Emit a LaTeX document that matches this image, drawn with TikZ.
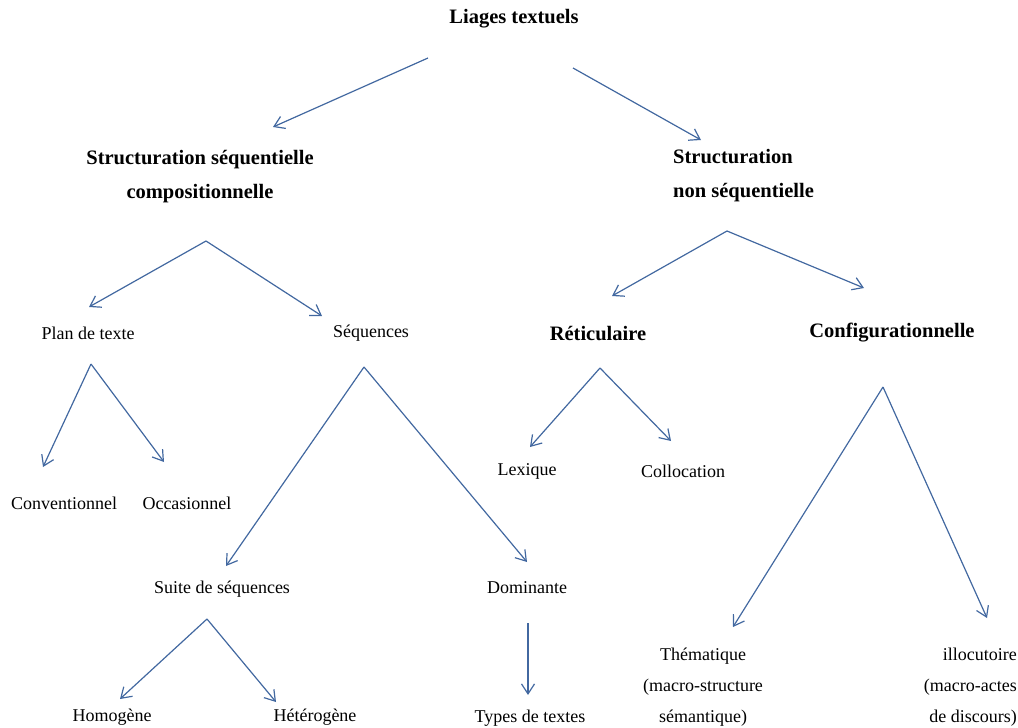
\documentclass[tikz,border=0pt]{standalone}
\usepackage{fontspec}
\setmainfont{Liberation Serif}
\usetikzlibrary{arrows.meta}
\definecolor{liageblue}{RGB}{66,104,160}
\tikzset{
    lien/.style={draw=liageblue, line width=1.2pt, -{Straight Barb[length=10pt,width=13pt]}},
    titre/.style={inner sep=0pt, text=black, font=\fontsize{20.5}{34}\selectfont\bfseries},
    terme/.style={inner sep=0pt, text=black, font=\fontsize{18}{31}\selectfont}
}

\begin{document}
\begin{tikzpicture}[x=1pt, y=-1pt]
    \useasboundingbox (0,0) rectangle (1018,728);
    % niveau 1 et 2
    \node[titre] (liages) at (514,19) {Liages textuels};
    \node[titre, align=center] (ssc) at (200,177) {Structuration séquentielle\\compositionnelle};
    \node[titre, align=left, anchor=west] (sns) at (673,176) {Structuration\\non séquentielle};
    % niveau 3
    \node[terme] (plan) at (88,333) {Plan de texte};
    \node[terme] (seq) at (371,333) {Séquences};
    \node[titre] (ret) at (598,333) {Réticulaire};
    \node[titre] (conf) at (892,333) {Configurationnelle};
    % niveau 4
    \node[terme] (conv) at (64,503) {Conventionnel};
    \node[terme] (occ) at (187,503) {Occasionnel};
    \node[terme] (lex) at (527,471) {Lexique};
    \node[terme] (coll) at (683,471) {Collocation};
    \node[terme] (suite) at (222,589) {Suite de séquences};
    \node[terme] (dom) at (527,588) {Dominante};
    % niveau 5
    \node[terme] (homo) at (112,717) {Homogène};
    \node[terme] (hetero) at (315,717) {Hétérogène};
    \node[terme] (types) at (530,718) {Types de textes};
    \node[terme, align=center] (them) at (703,687) {Thématique\\(macro-structure\\sémantique)};
    \node[terme, align=right, anchor=east] (illoc) at (1017,687) {illocutoire\\(macro-actes\hspace*{13pt}\\de discours)};
    % departs
    \coordinate (liages-out1) at (428,58);
    \coordinate (liages-out2) at (573,68);
    \coordinate (ssc-out) at (206,241);
    \coordinate (sns-out) at (727,231);
    \coordinate (plan-out) at (91,364);
    \coordinate (seq-out) at (364,367);
    \coordinate (ret-out) at (600,368);
    \coordinate (conf-out) at (883,387);
    \coordinate (suite-out) at (207,619);
    \coordinate (dom-out) at (528,623);
    % arrivees
    \coordinate (ssc-in) at (273,127);
    \coordinate (sns-in) at (701,140);
    \coordinate (plan-in) at (89,307);
    \coordinate (seq-in) at (322,316);
    \coordinate (ret-in) at (612,296);
    \coordinate (conf-in) at (864,288);
    \coordinate (conv-in) at (43,467);
    \coordinate (occ-in) at (164,462);
    \coordinate (suite-in) at (226,566);
    \coordinate (dom-in) at (527,562);
    \coordinate (lex-in) at (530,447);
    \coordinate (coll-in) at (671,441);
    \coordinate (them-in) at (733,627);
    \coordinate (illoc-in) at (987,618);
    \coordinate (homo-in) at (120,699);
    \coordinate (hetero-in) at (276,702);
    \coordinate (types-in) at (528,695);
    % fleches
    \draw[lien] (liages-out1) -- (ssc-in);
    \draw[lien] (liages-out2) -- (sns-in);
    \draw[lien] (ssc-out) -- (plan-in);
    \draw[lien] (ssc-out) -- (seq-in);
    \draw[lien] (sns-out) -- (ret-in);
    \draw[lien] (sns-out) -- (conf-in);
    \draw[lien] (plan-out) -- (conv-in);
    \draw[lien] (plan-out) -- (occ-in);
    \draw[lien] (seq-out) -- (suite-in);
    \draw[lien] (seq-out) -- (dom-in);
    \draw[lien] (ret-out) -- (lex-in);
    \draw[lien] (ret-out) -- (coll-in);
    \draw[lien] (conf-out) -- (them-in);
    \draw[lien] (conf-out) -- (illoc-in);
    \draw[lien] (suite-out) -- (homo-in);
    \draw[lien] (suite-out) -- (hetero-in);
    \draw[lien] (dom-out) -- (types-in);
\end{tikzpicture}
\end{document}
